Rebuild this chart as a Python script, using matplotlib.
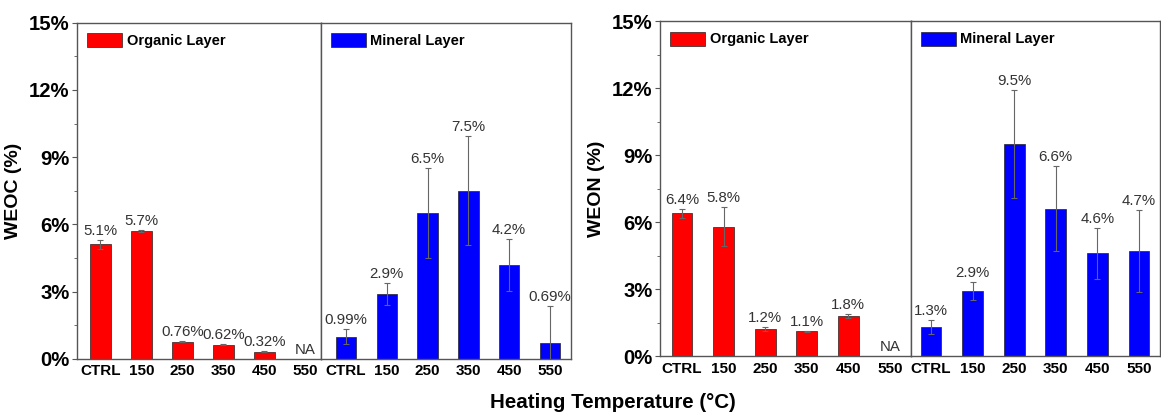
import matplotlib
matplotlib.use("Agg")
import matplotlib.pyplot as plt
import numpy as np

plt.rcParams['font.family'] = ['Liberation Sans', 'DejaVu Sans']

categories = ["CTRL", "150", "250", "350", "450", "550"]

# WEOC (%) - NaN where not available
weoc_organic = [5.1, 5.7, 0.76, 0.62, 0.32, np.nan]
weoc_organic_err = [0.2, 0.04, 0.03, 0.02, 0.03, np.nan]
weoc_mineral = [0.99, 2.9, 6.5, 7.5, 4.2, 0.69]
weoc_mineral_err = [0.32, 0.49, 2.0, 2.44, 1.16, 1.66]

# WEON (%)
weon_organic = [6.4, 5.8, 1.2, 1.1, 1.8, np.nan]
weon_organic_err = [0.2, 0.87, 0.1, 0.02, 0.1, np.nan]
weon_mineral = [1.3, 2.9, 9.5, 6.6, 4.6, 4.7]
weon_mineral_err = [0.3, 0.4, 2.4, 1.9, 1.15, 1.85]

organic_labels_weoc = ["5.1%", "5.7%", "0.76%", "0.62%", "0.32%", "NA"]
mineral_labels_weoc = ["0.99%", "2.9%", "6.5%", "7.5%", "4.2%", "0.69%"]
organic_labels_weon = ["6.4%", "5.8%", "1.2%", "1.1%", "1.8%", "NA"]
mineral_labels_weon = ["1.3%", "2.9%", "9.5%", "6.6%", "4.6%", "4.7%"]

yticks = [0, 3, 6, 9, 12, 15]
ytick_labels = ["0%", "3%", "6%", "9%", "12%", "15%"]

RED = "#ff0000"
BLUE = "#0000ff"
SPINE = "#555555"

fig = plt.figure(figsize=(11.61, 4.16), dpi=100)


def draw_bars(ax, values, errs, labels, color, legend_label, xlim):
    x = np.arange(len(categories))
    vals = np.array(values, dtype=float)
    ers = np.array(errs, dtype=float)
    ax.bar(x, np.nan_to_num(vals), width=0.5, color=color, edgecolor="#222222",
           linewidth=0.5, label=legend_label, zorder=2)
    ax.errorbar(x, vals, yerr=ers, fmt="none", ecolor="#666666", elinewidth=0.8,
                capsize=2.5, capthick=0.8, zorder=3)
    for xi, v, e, lab in zip(x, vals, ers, labels):
        top = 0.0 if np.isnan(v) else v + e
        ax.annotate(lab, (xi, top), xytext=(0, 1.5), textcoords="offset points",
                    ha="center", va="bottom", fontsize=10.8, color="#333333")
    ax.set_xlim(*xlim)
    ax.set_ylim(0, 15)
    ax.set_xticks(x)
    ax.set_xticklabels(categories, fontsize=11, fontweight="bold")
    ax.tick_params(axis="x", length=0, pad=4)
    for s in ax.spines.values():
        s.set_color(SPINE)
        s.set_linewidth(1.0)
    ax.legend(loc="upper left", frameon=False, handlelength=2.4,
              handleheight=1.1, handletextpad=0.3, borderaxespad=0.3,
              prop={"weight": "bold", "size": 10.5})
    return ax


def panel(x0, xmid, x1, y0, y1, org, org_err, org_lab, mnr, mnr_err, mnr_lab, ylabel,
          xlim_org, xlim_min):
    ax1 = fig.add_axes([x0, y0, xmid - x0, y1 - y0])
    ax2 = fig.add_axes([xmid, y0, x1 - xmid, y1 - y0])
    draw_bars(ax1, org, org_err, org_lab, RED, "Organic Layer", xlim_org)
    draw_bars(ax2, mnr, mnr_err, mnr_lab, BLUE, "Mineral Layer", xlim_min)
    ax1.set_yticks(yticks)
    ax1.set_yticklabels(ytick_labels, fontsize=14.6, fontweight="bold")
    ax1.set_yticks([1.5, 4.5, 7.5, 10.5, 13.5], minor=True)
    ax1.tick_params(axis="y", which="major", direction="out", length=3.5,
                    color=SPINE, pad=2)
    ax1.tick_params(axis="y", which="minor", direction="out", length=2,
                    color=SPINE)
    ax1.set_ylabel(ylabel, fontsize=14, fontweight="bold", labelpad=5)
    ax2.set_yticks([])
    return ax1, ax2


W, H = 1161, 416
panel(77 / W, 320.7 / W, 570.7 / W, 1 - 358.7 / H, 1 - 22.7 / H,
      weoc_organic, weoc_organic_err, organic_labels_weoc,
      weoc_mineral, weoc_mineral_err, mineral_labels_weoc, "WEOC (%)",
      (-0.57, 5.37), (-0.62, 5.51))
panel(660 / W, 910.7 / W, 1159.7 / W, 1 - 356 / H, 1 - 21.3 / H,
      weon_organic, weon_organic_err, organic_labels_weon,
      weon_mineral, weon_mineral_err, mineral_labels_weon, "WEON (%)",
      (-0.53, 5.5), (-0.49, 5.5))

fig.text(613 / W, 1 - 402 / H, "Heating Temperature (°C)", ha="center",
         va="center", fontsize=14.8, fontweight="bold")

fig.savefig("out.png", dpi=100)
